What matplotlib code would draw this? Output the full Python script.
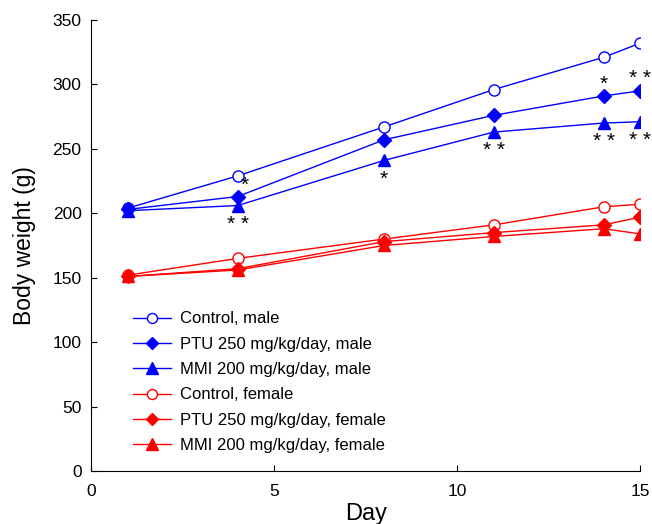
import matplotlib
matplotlib.use('Agg')
from matplotlib import pyplot as plt

plt.rcParams['font.family'] = ['Liberation Sans', 'DejaVu Sans']

days = [1, 4, 8, 11, 14, 15]

control_male = [204, 229, 267, 296, 321, 332]
ptu_male = [203, 213, 257, 276, 291, 295]
mmi_male = [202, 206, 241, 263, 270, 271]
control_female = [152, 165, 180, 191, 205, 207]
ptu_female = [151, 157, 178, 185, 191, 197]
mmi_female = [151, 156, 175, 182, 188, 184]

# significance marks vs control (male)
ptu_marks = [(4, '*'), (14, '*'), (15, '* *')]
mmi_marks = [(4, '* *'), (8, '*'), (11, '* *'), (14, '* *'), (15, '* *')]

fig = plt.figure(figsize=(6.52, 5.24), dpi=100)
ax = fig.add_axes([0.14, 0.101, 0.842, 0.861])

ms = 8
ax.plot(days, control_male, color='blue', lw=1, marker='o', ms=ms, mfc='white', mec='blue', label='Control, male')
ax.plot(days, ptu_male, color='blue', lw=1, marker='D', ms=ms - 1, label='PTU 250 mg/kg/day, male')
ax.plot(days, mmi_male, color='blue', lw=1, marker='^', ms=ms + 1, label='MMI 200 mg/kg/day, male')
ax.plot(days, control_female, color='red', lw=1, marker='o', ms=ms, mfc='white', mec='red', label='Control, female')
ax.plot(days, ptu_female, color='red', lw=1, marker='D', ms=ms - 1, label='PTU 250 mg/kg/day, female')
ax.plot(days, mmi_female, color='red', lw=1, marker='^', ms=ms + 1, label='MMI 200 mg/kg/day, female')

for d, s in ptu_marks:
    v = ptu_male[days.index(d)]
    if d == 4:
        ax.text(d + 0.2, v + 1, s, ha='center', va='bottom', fontsize=15)
    else:
        ax.text(d, v + 2, s, ha='center', va='bottom', fontsize=15)
for d, s in mmi_marks:
    v = mmi_male[days.index(d)]
    ax.text(d, v - 22, s, ha='center', va='bottom', fontsize=15)

ax.set_xlim(0, 15)
ax.set_ylim(0, 350)
ax.set_xticks([0, 5, 10, 15])
ax.set_yticks(range(0, 351, 50))
ax.spines['top'].set_visible(False)
ax.spines['right'].set_visible(False)
ax.tick_params(direction='in', labelsize=12.5, length=4, pad=7)
ax.tick_params(axis='x', pad=9)
ax.set_xlabel('Day', fontsize=17, labelpad=3)
ax.set_ylabel('Body weight (g)', fontsize=16.5, labelpad=12)

ax.legend(loc='lower left', bbox_to_anchor=(0.076, 0.04), frameon=False, fontsize=12,
          handlelength=2.3, labelspacing=0.62, handletextpad=0.5,
          borderpad=0, borderaxespad=0, markerscale=0.9)

fig.savefig('out.png', dpi=100)
